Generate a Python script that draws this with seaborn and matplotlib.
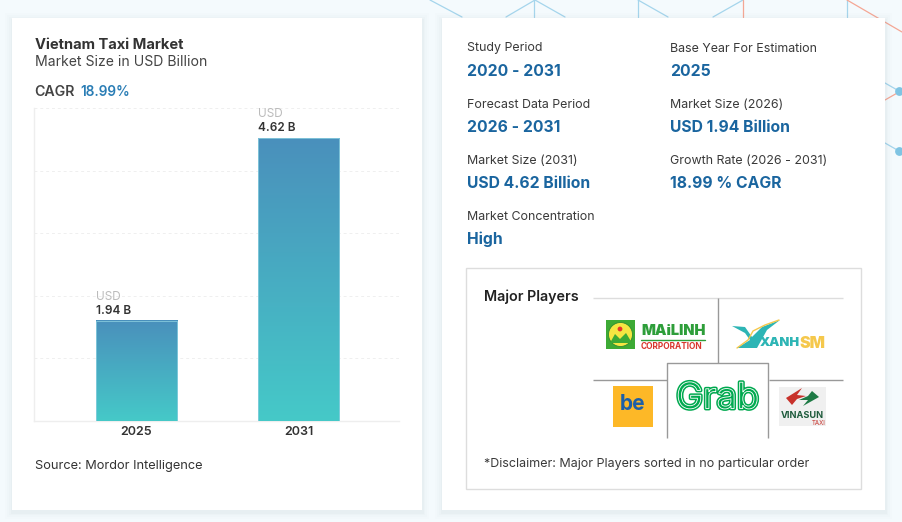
import numpy as np
import pandas as pd
import seaborn as sns
import matplotlib.pyplot as plt
from matplotlib.colors import LinearSegmentedColormap
from matplotlib.patches import Rectangle, Circle, Polygon
import matplotlib.patheffects as pe

years = ['2025', '2031']
market_size = [1.94, 4.62]
bar_labels = ['1.94 B', '4.62 B']

info_labels = ['Study Period', 'Base Year For Estimation', 'Forecast Data Period', 'Market Size (2026)',
               'Market Size (2031)', 'Growth Rate (2026 - 2031)', 'Market Concentration']
info_values = ['2020 - 2031', '2025', '2026 - 2031', 'USD 1.94 Billion',
               'USD 4.62 Billion', '18.99 % CAGR', 'High']

BLUE = '#1A659F'
FONT = 'Inter'

sns.set_theme(style='white')
plt.rcParams['font.family'] = [FONT, 'DejaVu Sans']

fig = plt.figure(figsize=(9.02, 5.22), dpi=100, facecolor='#F4FAFD')

# page layer in pixel coordinates
page = fig.add_axes([0, 0, 1, 1])
page.set_xlim(0, 902)
page.set_ylim(522, 0)
page.axis('off')

# network pattern behind the cards
net_blue = [((430, 0), (462, 17)), ((535, 0), (506, 17)), ((535, 0), (565, 17)), ((534, 0), (534, 17)),
            ((638, 0), (668, 17)), ((638, 0), (638, 17)), ((743, 0), (713, 17)), ((847, 0), (847, 17)),
            ((885, 83), (899, 91)), ((885, 143), (899, 151))]
net_red = [((743, 0), (743, 17)), ((847, 0), (902, 32)), ((885, 100), (899, 92))]
for a, b in net_blue:
    page.plot([a[0], b[0]], [a[1], b[1]], color='#A5D5EC', lw=0.9)
for a, b in net_red:
    page.plot([a[0], b[0]], [a[1], b[1]], color='#F4A795', lw=0.9)
page.scatter([899, 899], [91, 151], s=28, color='#7FC4E3', zorder=2)


def card(x, y, w, h):
    for grow, alpha in zip([7, 5, 3, 1.5], [0.012, 0.016, 0.02, 0.03]):
        page.add_patch(Rectangle((x - grow, y - grow + 2), w + 2 * grow, h + 2 * grow, color='#5A7A90',
                                 alpha=alpha, lw=0, zorder=3))
    page.add_patch(Rectangle((x, y), w, h, color='white', lw=0, zorder=4))


card(12, 18, 410, 492)
card(442, 18, 443, 492)


def label(x, y, s, size=9.4, color='#333333', weight='normal', ha='left', **kw):
    return page.text(x, y, s, fontsize=size, color=color, fontweight=weight, ha=ha, va='center', zorder=8, **kw)


# left card headings
label(35, 45, 'Vietnam Taxi Market', size=10.6, weight='bold')
label(35, 62, 'Market Size in USD Billion', size=10.1, color='#444444')
label(34.5, 91.5, 'CAGR', size=10.2, weight='semibold', color='#444444')
label(80, 91.5, '18.99%', size=9.8, weight='semibold', color='#2A7DB5')
label(35, 465.5, 'Source: Mordor Intelligence', size=9.2)

# bar chart
W, H = 902.0, 522.0
ax = fig.add_axes([34 / W, 1 - 421 / H, 365 / W, 313 / H], zorder=5)
ax.patch.set_alpha(0)
df = pd.DataFrame({'year': years, 'size': market_size})
sns.barplot(data=df, x='year', y='size', ax=ax, width=0.5, color='#4A9CC0', saturation=1)
ylim = (0.475, 5.06)
cmap = LinearSegmentedColormap.from_list('bar', ['#4A90BC', '#45C9C8'])
for bar, txt in zip(ax.patches, bar_labels):
    x0, w, top = bar.get_x(), bar.get_width(), bar.get_height()
    bar.set_alpha(0)
    grad = np.linspace(0, 1, 200).reshape(-1, 1)
    ax.imshow(grad, cmap=cmap, aspect='auto', extent=[x0, x0 + w, ylim[0], top], zorder=3)
    ax.plot([x0, x0, x0 + w, x0 + w], [ylim[0], top, top, ylim[0]], color='#8CCFE0', lw=0.7, alpha=0.8, zorder=4)
    ax.annotate(txt, (x0, top), xytext=(0, 7.5), textcoords='offset points', fontsize=8.5,
                fontweight='semibold', color='#333333', va='center')
    ax.annotate('USD', (x0, top), xytext=(0, 17.5), textcoords='offset points', fontsize=8.5,
                color='#BBBBBB', va='center')
ax.set_xlim(-0.633, 1.62)
ax.set_ylim(*ylim)
ax.set_xlabel('')
ax.set_ylabel('')
ax.set_yticks(np.linspace(ylim[0], ylim[1], 6))
ax.set_yticklabels([])
ax.grid(axis='y', color='#EFEFEF', lw=0.7, ls=(0, (3, 3)))
ax.set_axisbelow(True)
ax.tick_params(axis='x', length=0, pad=3.5, labelsize=9, labelcolor='#333333')
ax.tick_params(axis='y', length=0)
for t in ax.get_xticklabels():
    t.set_fontweight('semibold')
sns.despine(ax=ax, top=True, right=True)
for s in ['left', 'bottom']:
    ax.spines[s].set_color('#EEEEEE')
    ax.spines[s].set_linewidth(1)

# right card summary
positions = [(467, 48.5), (670, 48.5), (467, 104.5), (670, 104.5), (467, 160.5), (670, 160.5), (467, 216.5)]
for (x, y), lab, val in zip(positions, info_labels, info_values):
    label(x, y, lab, size=8.95, color='#3A3A3A')
    label(x, y + 22.5, val, size=11.3, color=BLUE, weight='bold')

# major players box
page.add_patch(Rectangle((466, 268), 394.5, 221, fc='white', ec='#DDDDDD', lw=1, zorder=5))
label(484, 296.5, 'Major Players', size=10.3, weight='semibold', color='#222222')
label(484, 463.5, '*Disclaimer: Major Players sorted in no particular order', size=9, color='#3A3A3A')
for xs, ys, col in [([593, 843], [298, 298], '#DDDDDD'), ([718, 718], [298, 363], '#999999'),
                    ([593, 667], [380, 380], '#999999'), ([769, 843], [380, 380], '#999999'),
                    ([667, 667, 768, 768], [438, 363, 363, 438], '#999999')]:
    page.plot(xs, ys, color=col, lw=1, zorder=6, solid_capstyle='butt')

# Mai Linh logo
page.add_patch(Rectangle((606, 320), 29, 29, color='#3DAA35', lw=0, zorder=6))
page.add_patch(Circle((620.5, 334.5), 12, fc='#F5E642', ec='#2E8B2E', lw=0.6, zorder=7))
page.add_patch(Circle((620, 329), 2.4, color='#E5352B', lw=0, zorder=8))
page.add_patch(Polygon([(610, 343), (615, 334), (620, 339), (626, 333), (632, 343)], color='#3DAA35', lw=0, zorder=8))
label(641, 331, 'MAiLINH', size=10.5, color='#2E9E3A', weight='black')
page.plot([641, 705], [340, 340], color='#2E9E3A', lw=1, zorder=7)
label(641, 346.5, 'CORPORATION', size=6, color='#D9342B', weight='bold')

# Xanh SM logo
page.add_patch(Polygon([(732, 326), (745, 327), (752, 337), (762, 327), (780, 320), (767, 330), (757, 348), (737, 348),
                        (750, 340), (745, 333)], color='#2DB5B5', lw=0, zorder=7))
page.plot([737, 748, 753, 765, 779], [348, 340, 331, 325, 320], color='#F5C84C', lw=1, zorder=8)
label(760, 343.5, 'XANH', size=9.3, color='#2DB5B5', weight='black')
label(800, 343.5, 'SM', size=11.5, color='#F5C84C', weight='black')

# be logo
page.add_patch(Rectangle((613, 386), 40, 41, color='#FDB827', lw=0, zorder=6))
label(633, 404, 'be', size=15, color='#1C5FA8', weight='bold', ha='center')

# Grab logo
grab = label(717.5, 399, 'Grab', size=26, color='#00A94F', ha='center')
grab.set_path_effects([pe.Normal(), pe.Stroke(linewidth=2.8, foreground='#00A94F'),
                       pe.Stroke(linewidth=0.6, foreground='white')])

# Vinasun logo
page.add_patch(Rectangle((779, 387), 47, 39, color='#F0F0F0', lw=0, zorder=6))
page.add_patch(Polygon([(786, 398), (802, 388), (797, 395), (806, 396), (797, 399), (792, 405)],
                       color='#C8322B', lw=0, zorder=7))
page.add_patch(Polygon([(819, 397), (803, 406), (808, 400), (799, 400), (808, 396), (812, 391)],
                       color='#1E7A45', lw=0, zorder=7))
label(802.5, 415, 'VINASUN', size=6.6, color='#1E5B3C', weight='bold', ha='center')
label(819, 423, 'TAXI', size=4.4, color='#C8322B', ha='center')

fig.savefig('out.png', dpi=100)
